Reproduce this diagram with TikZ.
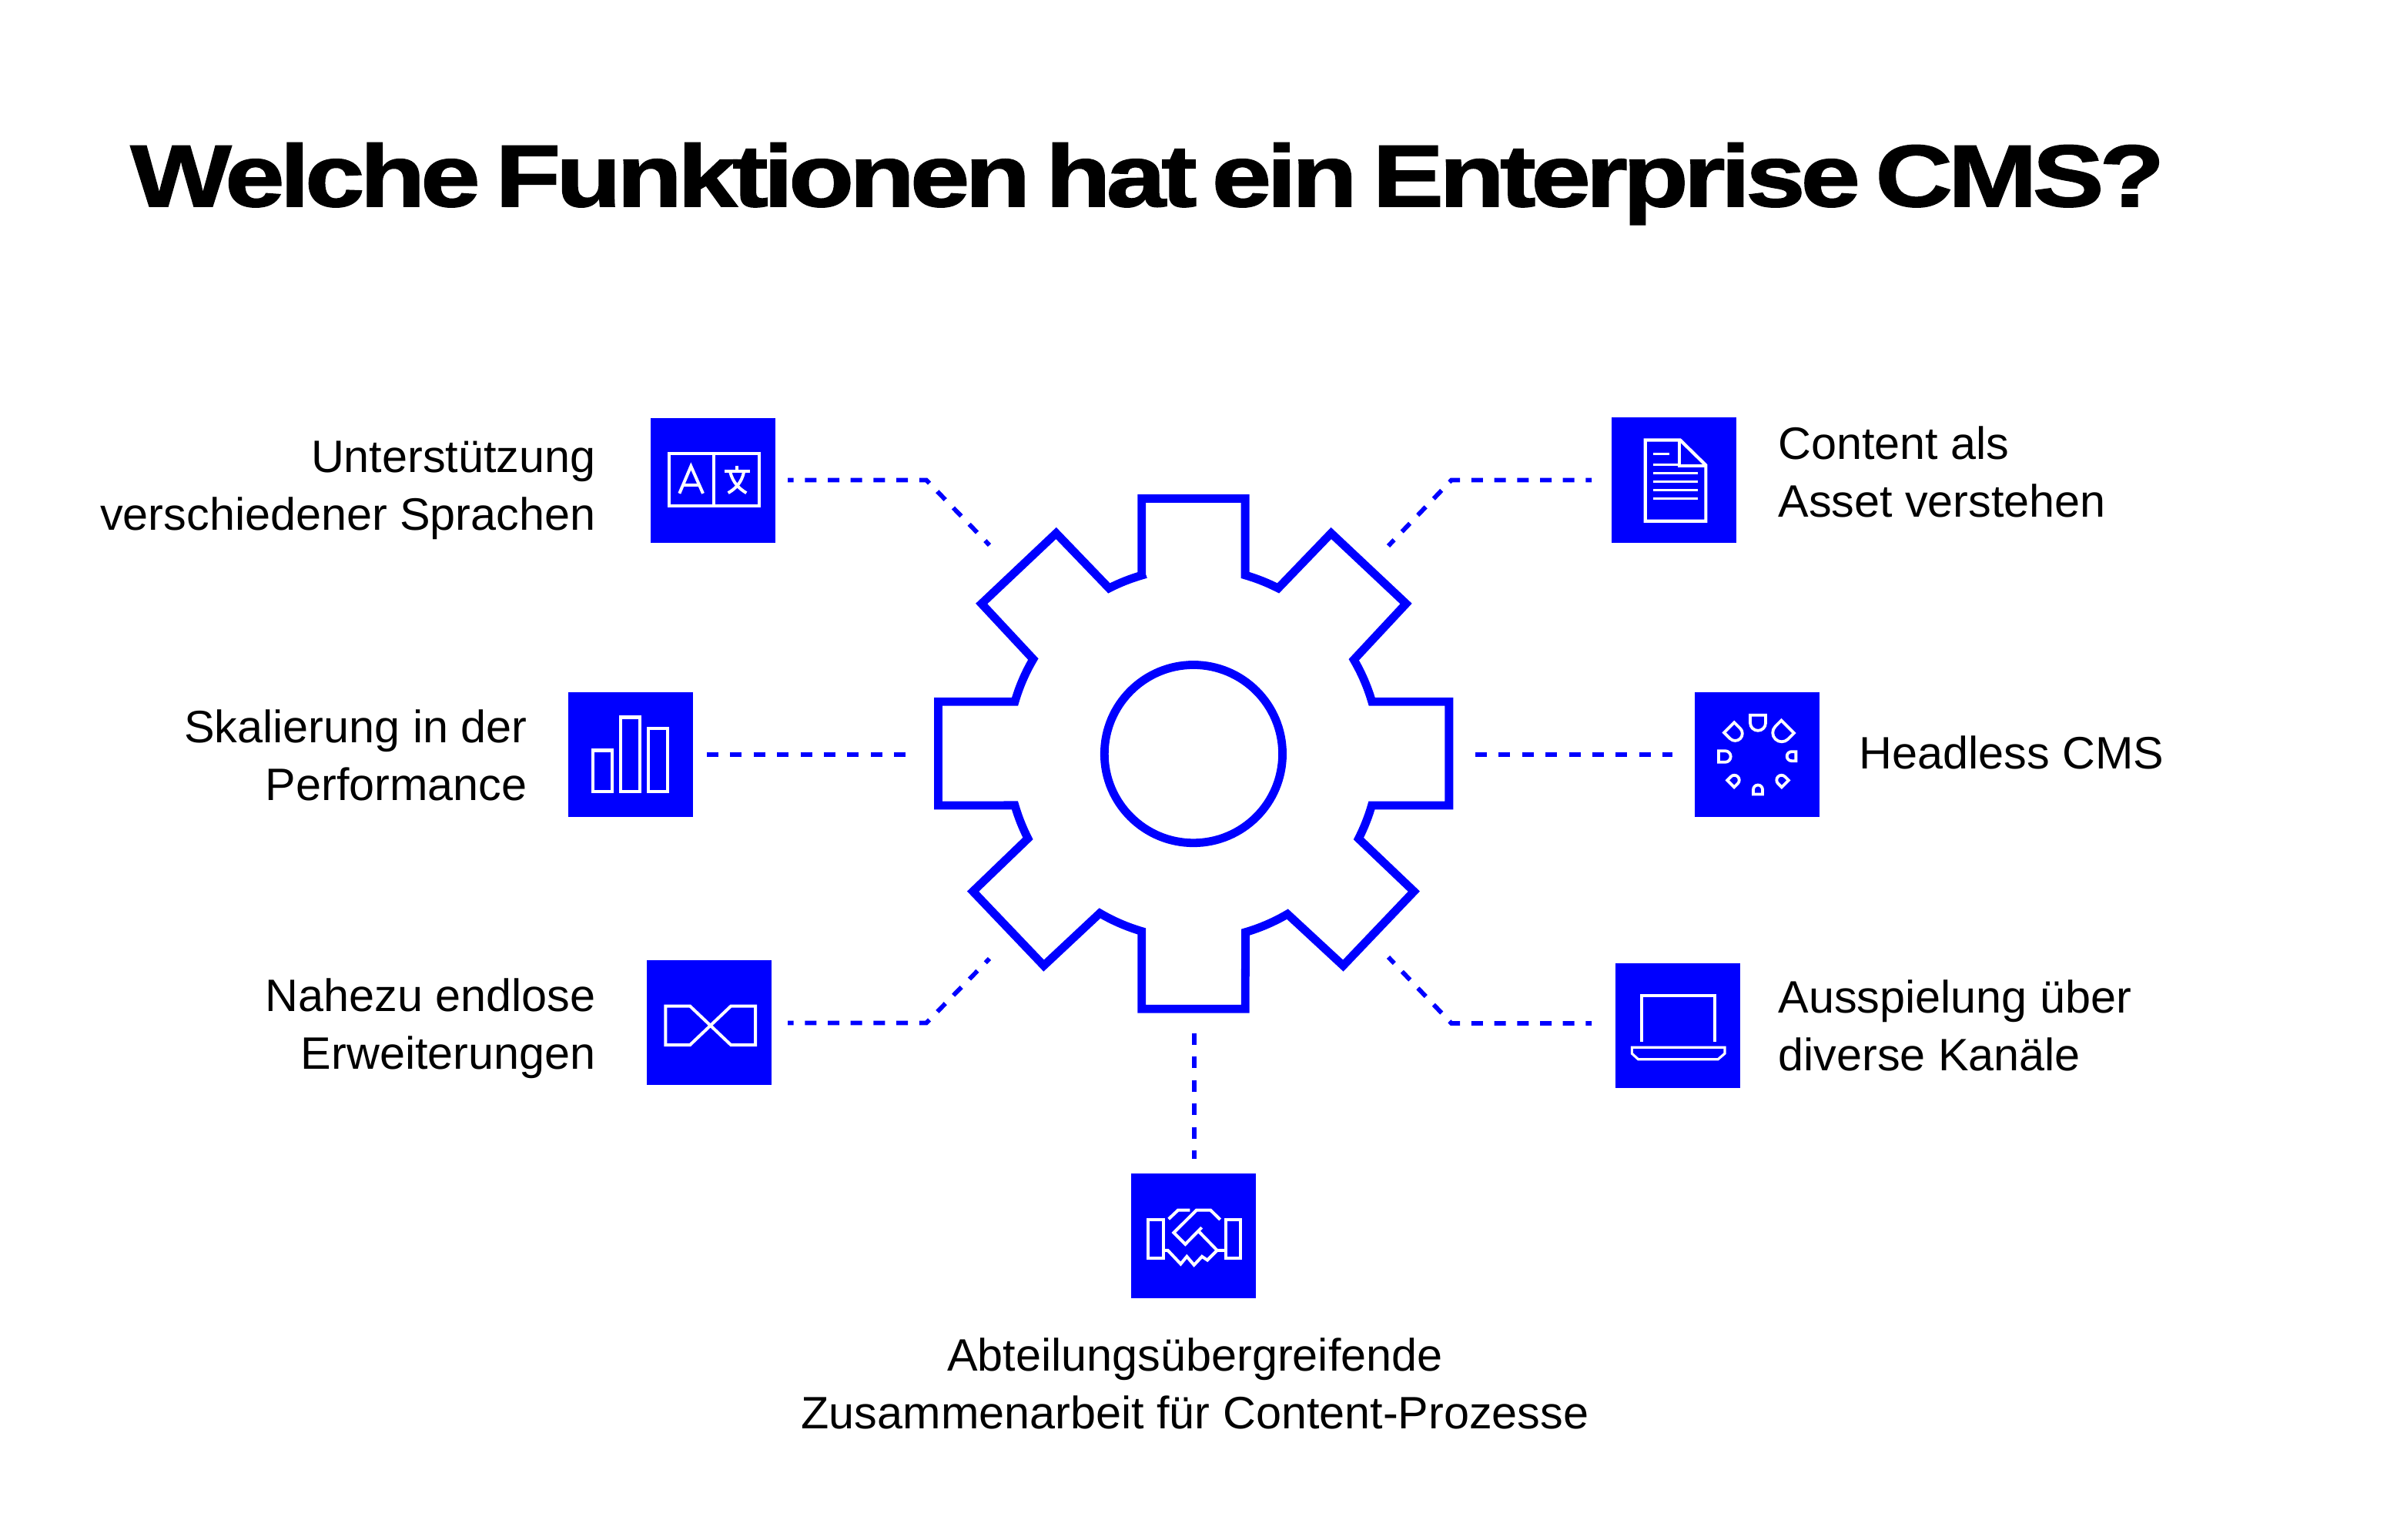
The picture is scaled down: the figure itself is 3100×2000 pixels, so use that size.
\documentclass[tikz,border=0pt]{standalone}
\usepackage{fontspec}
\setmainfont{Liberation Sans}[FakeStretch=1.006]
\newfontfamily\titlefont{Liberation Sans}[BoldFeatures={FakeStretch=1.22,FakeBold=1.5,LetterSpace=-5.3,WordSpace=0.6}]
\definecolor{cmsblue}{HTML}{0000FF}
\tikzset{
  iconbox/.style={fill=cmsblue,draw=none,minimum size=81pt,inner sep=0pt,outer sep=0pt},
  conn/.style={draw=cmsblue,line width=2.9pt,dash pattern=on 7.5pt off 7.35pt,dash phase=3.7pt},
  connstraight/.style={draw=cmsblue,line width=2.9pt,dash pattern=on 7.5pt off 7.7pt},
  crop/.style 2 args={shift={(#1,#2+1.5)},x=0.16667pt,y=-0.16667pt},
  ico/.style={draw=white,line width=2pt},
  label/.style={font=\fontsize{29.5}{37.5}\selectfont,text=black,inner sep=0pt},
}
\begin{document}
\begin{tikzpicture}[x=0.5pt,y=-0.5pt]
\useasboundingbox (0,0) rectangle (3100,2000);
\fill[white] (0,0) rectangle (3100,2000);

\node[anchor=base west,inner sep=0pt,font=\titlefont\bfseries\fontsize{57}{60}\selectfont] (title) at (169,268) {Welche Funktionen hat ein Enterprise CMS?};

% gear
\begin{scope}[shift={(1210,630)},x=0.2232pt,y=-0.2232pt]
\draw[cmsblue,line width=5.4pt,miter limit=10]
 (611,262)--(611,39)--(912,39)--(912,262)
 arc[start angle=-73.85,end angle=-62.9,radius=541]
 --(1162,140)--(1380,345)--(1228,508)
 arc[start angle=-30.4,end angle=-16.3,radius=541]
 --(1505,630)--(1505,932)--(1280,932)
 arc[start angle=16.1,end angle=27.1,radius=541]
 --(1403,1182)--(1197,1398)--(1035,1248)
 arc[start angle=59.6,end angle=73.7,radius=541]
 --(912,1524)--(611,1524)--(611,1298)
 arc[start angle=106.3,end angle=120.4,radius=541]
 --(326,1398)--(120,1182)--(280,1028)
 arc[start angle=152.9,end angle=163.9,radius=541]
 --(19,932)--(19,630)--(242,630)
 arc[start angle=196.2,end angle=210.5,radius=541]
 --(145,345)--(362,140)--(516,300)
 arc[start angle=243,end angle=253.85,radius=541]
 --cycle;
\draw[cmsblue,line width=5.4pt] (761.5,782) circle[radius=259];
\end{scope}

% icon squares
\node[iconbox] (lang) at (926,624.3) {};
\node[iconbox] (perf) at (818.5,979.8) {};
\node[iconbox] (ext) at (921,1328.3) {};
\node[iconbox] (coll) at (1550,1604.9) {};
\node[iconbox] (doc) at (2174.4,623.5) {};
\node[iconbox] (head) at (2281.8,979.8) {};
\node[iconbox] (lap) at (2179.4,1331.5) {};

% connectors
\coordinate (c1a) at (1023,623.5);\coordinate (c1b) at (1203,623.5);\coordinate (c1c) at (1285,708);
\coordinate (c2a) at (918,980);\coordinate (c2b) at (1176,980);
\coordinate (c3a) at (1023,1328.5);\coordinate (c3b) at (1203,1328.5);\coordinate (c3c) at (1285,1245);
\coordinate (c4a) at (1551,1342);\coordinate (c4b) at (1551,1505);
\coordinate (c5a) at (2067,623.5);\coordinate (c5b) at (1885,623.5);\coordinate (c5c) at (1803,709);
\coordinate (c6a) at (1916,980);\coordinate (c6b) at (2172,980);
\coordinate (c7a) at (2067,1329);\coordinate (c7b) at (1885,1329);\coordinate (c7c) at (1803,1243);
\draw[conn] (c1a)--(c1b)--(c1c);
\draw[connstraight] (c2a)--(c2b);
\draw[conn] (c3a)--(c3b)--(c3c);
\draw[connstraight] (c4a)--(c4b);
\draw[conn] (c5a)--(c5b)--(c5c);
\draw[connstraight] (c6a)--(c6b);
\draw[conn] (c7a)--(c7b)--(c7c);

% icon: languages
\begin{scope}[crop={840}{530}]
\draw[ico] (86,171) rectangle (437,377);
\draw[ico] (262,171)--(262,377);
\draw[ico] (127,328)--(172,222)--(219,328);
\draw[ico] (140,296)--(205,296);
\draw[ico] (352,220)--(352,242);
\draw[ico] (302,242)--(402,242);
\draw[ico] (325,245) .. controls (335,285) and (360,310) .. (388,326);
\draw[ico] (378,245) .. controls (370,285) and (345,310) .. (317,326);
\end{scope}

% icon: bars
\begin{scope}[crop={730}{890}]
\draw[ico,line width=2.1pt] (120,249) rectangle (196,410);
\draw[ico,line width=2.1pt] (228,120) rectangle (304,410);
\draw[ico,line width=2.1pt] (336,163) rectangle (412,410);
\end{scope}

% icon: infinity
\begin{scope}[crop={835}{1245}]
\draw[ico] (88,180)--(183,180)--(343,332)--(438,332)--(438,180)--(343,180)--(183,332)--(88,332)--cycle;
\end{scope}

% icon: handshake
\begin{scope}[crop={1470}{1525}]
\draw[ico] (64,172) rectangle (122,322);
\draw[ico] (366,172) rectangle (422,322);
\draw[ico] (143,170)--(180,135)--(226,135);
\draw[ico] (344,172)--(306,135)--(252,135)--(163,223)--(208,268)--(272,203);
\draw[ico] (262,220)--(332,292);
\draw[ico] (122,292)--(140,292)--(190,345)--(214,316)--(242,349)--(273,316)--(294,330)--(332,292)--(366,292);
\end{scope}

% icon: document
\begin{scope}[crop={2100}{530}]
\draw[ico,line width=2.1pt] (110,120)--(246,120)--(346,218)--(346,436)--(110,436)--cycle;
\draw[ico,line width=2.1pt] (243,120)--(243,220)--(346,220);
\draw[ico,line width=1.5pt] (142,175)--(204,175);
\draw[ico,line width=1.5pt] (142,217)--(243,217);
\foreach \yy in {250,283,315,348}{\draw[ico,line width=1.5pt] (142,\yy)--(316,\yy);}
\end{scope}

% icon: headless ring
\begin{scope}[crop={2210}{890}]
\foreach \cx/\cy/\rot/\hw/\tt in {219/112/0/30/30,335/157/-45/35/33,367/272/-90/18/17,325/379/-135/19/20,219/420/180/18/18,113/379/135/19/20,66/273/90/22/25,107/160/45/28/33}{
  \draw[ico,line width=1.9pt,shift={(\cx,\cy)},rotate=\rot]
    (-\hw,0)--(\hw,0)--(\hw,\tt) arc[start angle=0,end angle=180,radius=\hw]--cycle;
}
\end{scope}

% icon: laptop
\begin{scope}[crop={2105}{1245}]
\draw[ico] (81,318)--(81,138)--(367,138)--(367,318);
\draw[ico,line width=1.6pt] (43,341)--(405,341)--(405,365)--(378,388)--(68,388)--(43,365)--cycle;
\end{scope}

% labels
\node[label,anchor=base east,align=right] (t1) at (774,689) {Unterstützung\\verschiedener Sprachen};
\node[label,anchor=base east,align=right] (t2) at (685,1039) {Skalierung in der\\Performance};
\node[label,anchor=base east,align=right] (t3) at (774,1388) {Nahezu endlose\\Erweiterungen};
\node[label,anchor=base west,align=left] (t4) at (2309,671) {Content als\\Asset verstehen};
\node[label,anchor=base west,align=left] (t5) at (2414,998) {Headless CMS};
\node[label,anchor=base west,align=left] (t6) at (2309,1390) {Ausspielung über\\diverse Kanäle};
\node[label,anchor=base,align=center] (t7) at (1552,1855) {Abteilungsübergreifende\\Zusammenarbeit für Content-Prozesse};
\end{tikzpicture}
\end{document}
